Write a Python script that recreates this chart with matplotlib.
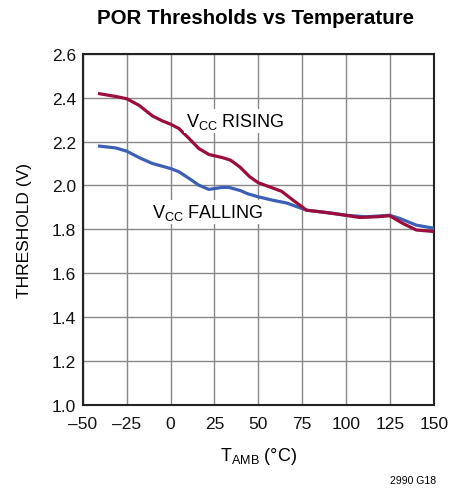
import matplotlib
matplotlib.use("Agg")
import matplotlib.pyplot as plt
import numpy as np
from matplotlib import font_manager

names = {f.name for f in font_manager.fontManager.ttflist}
FONT = "Liberation Sans Narrow" if "Liberation Sans Narrow" in names else "Liberation Sans"
plt.rcParams['font.family'] = [FONT, 'DejaVu Sans']
plt.rcParams['mathtext.fontset'] = 'custom'
plt.rcParams['mathtext.rm'] = FONT
plt.rcParams['mathtext.it'] = FONT
plt.rcParams['mathtext.bf'] = FONT

temp_rising = [-40.5, -31, -25, -18, -10.4, -4.7, 0, 4.8, 10.5, 16.1, 21.8, 29.4, 34.2, 39.6,
               45, 50, 56.6, 63.3, 69.9, 77.5, 85, 96.4, 107.8, 117.2, 124.8, 132.3, 140, 150]
v_rising = [2.418, 2.405, 2.395, 2.365, 2.317, 2.294, 2.279, 2.259, 2.214, 2.168, 2.141, 2.127, 2.115, 2.083,
            2.04, 2.012, 1.993, 1.973, 1.932, 1.887, 1.880, 1.868, 1.854, 1.857, 1.862, 1.827, 1.797, 1.790]

temp_falling = [-40.5, -31.3, -25, -18, -10.4, 0, 4.8, 10.5, 16.1, 21.8, 29.4, 33.2, 39.6,
                44, 50, 58.5, 66.1, 77.5, 88.8, 100, 111.5, 124.8, 130.5, 140, 150]
v_falling = [2.179, 2.171, 2.156, 2.127, 2.1, 2.077, 2.062, 2.032, 2.001, 1.982, 1.991, 1.991, 1.977,
             1.962, 1.948, 1.932, 1.92, 1.887, 1.877, 1.864, 1.857, 1.864, 1.85, 1.819, 1.805]

x_ticks = [-50, -25, 0, 25, 50, 75, 100, 125, 150]
y_ticks = [1.0, 1.2, 1.4, 1.6, 1.8, 2.0, 2.2, 2.4, 2.6]

RED = "#9b0d3a"
BLUE = "#3d5fb5"

fig = plt.figure(figsize=(4.63, 4.89), dpi=100)
ax = fig.add_axes([0.179, 0.170, 0.758, 0.718])

ax.plot(temp_falling, v_falling, color=BLUE, lw=2.3, solid_joinstyle='round', zorder=3)
ax.plot(temp_rising, v_rising, color=RED, lw=2.3, solid_joinstyle='round', zorder=4)

ax.set_xlim(-50, 150)
ax.set_ylim(1.0, 2.6)
ax.set_xticks(x_ticks)
ax.set_yticks(y_ticks)
ax.set_xticklabels([("\u2013" + str(abs(t))) if t < 0 else str(t) for t in x_ticks])
ax.set_yticklabels([f"{v:.1f}" for v in y_ticks])
ax.grid(True, color="#888888", lw=1.0)
ax.set_axisbelow(True)
for s in ax.spines.values():
    s.set_color("#222222")
    s.set_linewidth(1.5)
ax.tick_params(length=0, labelsize=12.5, colors="#111111")
ax.tick_params(axis='x', pad=8)
ax.tick_params(axis='y', pad=5)

ax.text(9, 2.295, r"V$_\mathrm{CC}$ RISING", fontsize=13, va='center', ha='left',
        bbox=dict(facecolor='white', edgecolor='none', pad=1.5), zorder=5)
ax.text(-10.5, 1.88, r"V$_\mathrm{CC}$ FALLING", fontsize=13, va='center', ha='left',
        bbox=dict(facecolor='white', edgecolor='none', pad=1.5), zorder=5)

ax.set_xlabel(r"T$_\mathrm{AMB}$ (°C)", fontsize=13, labelpad=10)
ax.set_ylabel("THRESHOLD (V)", fontsize=12.5, labelpad=14)

fig.text(0.552, 0.962, "POR Thresholds vs Temperature", fontsize=14.8, fontweight='bold',
         ha='center', va='center')
fig.text(0.942, 0.006, "2990 G18", fontsize=7.5, ha='right', va='bottom')

fig.savefig("out.png", dpi=100)
